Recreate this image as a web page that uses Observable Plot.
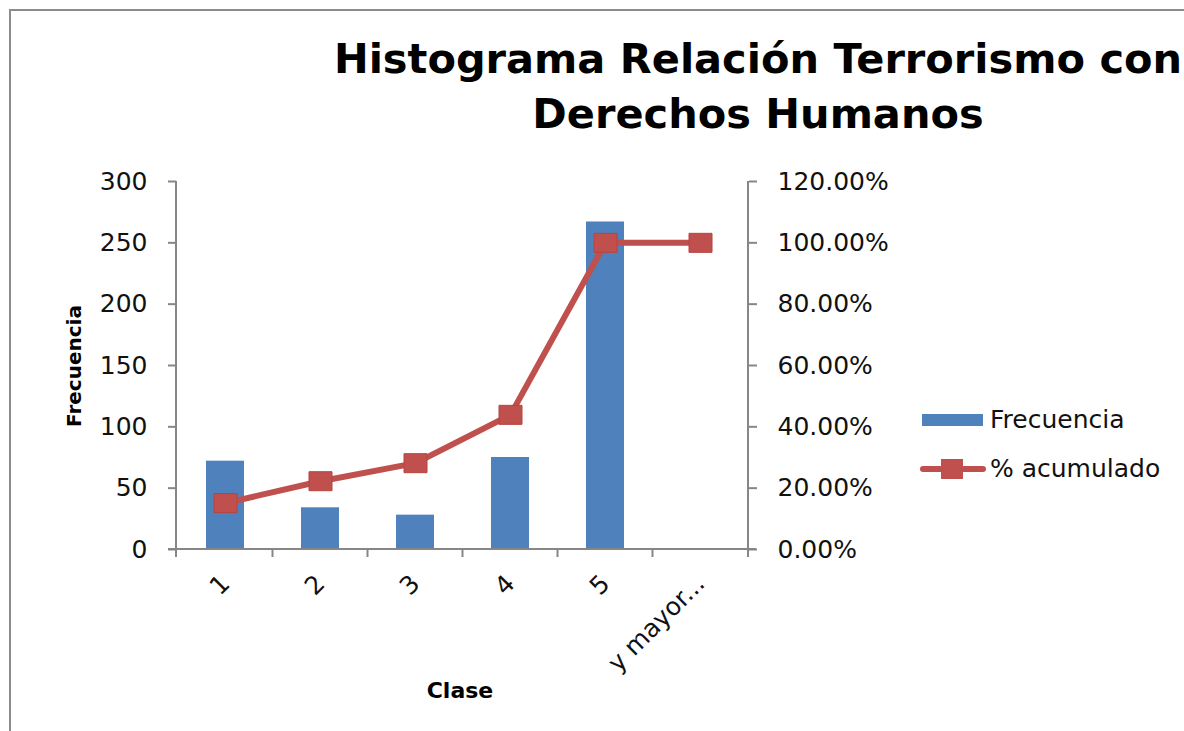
<!DOCTYPE html>
<html>
<head>
<meta charset="utf-8">
<script src="https://cdn.jsdelivr.net/npm/d3@7"></script>
<script src="https://cdn.jsdelivr.net/npm/@observablehq/plot@0.6"></script>
<style>
  html, body { margin: 0; padding: 0; background: #fff; }
  #wrap { position: relative; width: 1184px; height: 731px; overflow: hidden; background: #fff; font-family: "DejaVu Sans", sans-serif; }
  #border { position: absolute; left: 9px; top: 9px; width: 1300px; height: 800px; border: 2px solid #8c8c8c; box-sizing: border-box; }
  #chart { position: absolute; left: 0; top: 0; }
  #title { position: absolute; left: 158px; width: 1200px; top: 31px; text-align: center; font-weight: bold; font-size: 41.5px; line-height: 55px; color: #000; white-space: nowrap; }
  #ylabel { position: absolute; left: 74px; top: 366px; transform: translate(-50%, -50%) rotate(-90deg); font-weight: bold; font-size: 20px; white-space: nowrap; }
  #xlabel { position: absolute; left: 460px; top: 690px; transform: translate(-50%, -50%); font-weight: bold; font-size: 22px; white-space: nowrap; }
  .leg { position: absolute; left: 920px; display: flex; align-items: center; font-size: 25px; color: #111; white-space: nowrap; }
  .leg svg { margin-right: 4px; }
</style>
</head>
<body>
<div id="wrap">
  <div id="border"></div>
  <div id="chart"></div>
  <div id="title">Histograma Relación Terrorismo con<br>Derechos Humanos</div>
  <div id="ylabel">Frecuencia</div>
  <div id="xlabel">Clase</div>
  <div class="leg" style="top:405px"><svg width="66" height="16"><rect x="2" y="2" width="61" height="12" fill="#4F81BD"></rect></svg>Frecuencia</div>
  <div class="leg" style="top:454px"><svg width="66" height="26"><line x1="3" x2="63" y1="13" y2="13" stroke="#C0504D" stroke-width="6" stroke-linecap="round"></line><rect x="21" y="3" width="22" height="20" fill="#C0504D"></rect></svg>% acumulado</div>
</div>
<script>
const classes = ["1", "2", "3", "4", "5", "y mayor..."];
const frecuencia = [72, 34, 28, 75, 267, 0];
const acumulado = [15.13, 22.27, 28.15, 43.91, 100, 100];
const leftTicks = [0, 50, 100, 150, 200, 250, 300];
const rightMax = 120; // percent at top of right axis
const leftMax = 300;
const ratio = leftMax / rightMax;

const rows = classes.map((c, i) => ({clase: c, frecuencia: frecuencia[i], acumulado: acumulado[i]}));

const axisGray = "#868686";

// Excel-style marker: slightly wider than tall
const markerSymbol = {draw(ctx) { ctx.rect(-11.5, -9.5, 23, 19); }};

function axisLines(index, scales, values, dims) {
  const {x, y} = scales;
  const L = dims.marginLeft, R = dims.width - dims.marginRight;
  const T = dims.marginTop;
  const y0 = y(0);
  const bw = x.bandwidth ? x.bandwidth() : 0;
  const g = d3.create("svg:g").attr("stroke", axisGray).attr("stroke-width", 2).attr("fill", "none");
  g.append("line").attr("x1", L).attr("x2", L).attr("y1", T).attr("y2", y0);
  g.append("line").attr("x1", R).attr("x2", R).attr("y1", T).attr("y2", y0);
  g.append("line").attr("x1", L - 8).attr("x2", R + 8).attr("y1", y0).attr("y2", y0);
  const bounds = [L];
  for (let i = 0; i < classes.length - 1; i++) bounds.push((x(classes[i]) + x(classes[i + 1])) / 2 + bw / 2);
  bounds.push(R);
  for (const bx of bounds) g.append("line").attr("x1", bx).attr("x2", bx).attr("y1", y0).attr("y2", y0 + 8);
  return g.node();
}

const chart = Plot.plot({
  width: 1184,
  height: 731,
  marginLeft: 176,
  marginRight: 436,
  marginTop: 181,
  marginBottom: 182,
  style: {fontFamily: "DejaVu Sans, sans-serif", fontSize: "25px", color: "#111", background: "transparent"},
  x: {type: "band", domain: classes, paddingInner: 0.6, paddingOuter: 0.3, align: 0.5, label: null},
  y: {domain: [0, leftMax], label: null},
  marks: [
    Plot.barY(rows.filter(d => d.frecuencia > 0), {x: "clase", y: "frecuencia", fill: "#4F81BD"}),
    axisLines,
    Plot.axisY({anchor: "left", ticks: leftTicks, tickSize: 8, tickPadding: 21, stroke: axisGray, strokeWidth: 2, fill: "#111", label: null}),
    Plot.axisY({anchor: "right", ticks: leftTicks, tickSize: 8, tickPadding: 21, stroke: axisGray, strokeWidth: 2, fill: "#111", label: null,
      tickFormat: d => (d / ratio).toFixed(2) + "%"}),
    Plot.axisX({tickSize: 0, tickRotate: -45, tickPadding: 30, fill: "#111", label: null}),
    Plot.line(rows, {x: "clase", y: d => d.acumulado * ratio, stroke: "#C0504D", strokeWidth: 6, strokeLinejoin: "round"}),
    Plot.dot(rows, {x: "clase", y: d => d.acumulado * ratio, symbol: markerSymbol, fill: "#C0504D", stroke: "#B8433F", strokeWidth: 1})
  ]
});
document.getElementById("chart").appendChild(chart);
</script>
</body>
</html>
